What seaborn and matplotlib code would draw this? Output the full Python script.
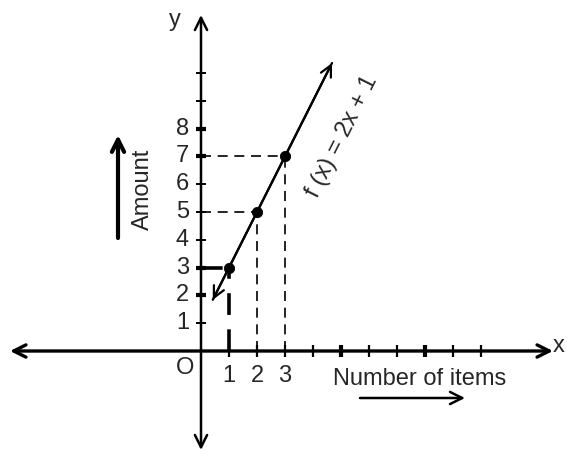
import matplotlib
matplotlib.use("Agg")
import matplotlib.pyplot as plt
import seaborn as sns
import pandas as pd

sns.set_style("white")
plt.rcParams["font.family"] = ["Liberation Sans", "DejaVu Sans"]

# Data
items = [1, 2, 3]
amounts = [3, 5, 7]
line_x = [0.42, 4.68]
line_y = [1.84, 10.36]
y_tick_labels = [1, 2, 3, 4, 5, 6, 7, 8]
y_ticks_unlabelled = [9, 10]
x_tick_labels = [1, 2, 3]
x_ticks_unlabelled = [4, 5, 6, 7, 8, 9, 10]
thick_y_ticks = [2, 3, 7, 8]
thick_x_ticks = [5, 8]

W, H = 567, 454
fig = plt.figure(figsize=(W / 100, H / 100), dpi=100)
ax = fig.add_axes([0, 0, 1, 1])

# pixel scale: origin at (201, 351), 28 px per x unit, 27.8 px per y unit
ox, oy, ux, uy = 201, 351, 28.0, 27.8
ax.set_xlim(-ox / ux, (W - ox) / ux)
ax.set_ylim(-(H - oy) / uy, oy / uy)
ax.axis("off")

def px(x, y):
    return (x - ox) / ux, (oy - y) / uy

arrow_kw = dict(arrowstyle="->", lw=2.4, color="black", mutation_scale=22,
                shrinkA=0, shrinkB=0)

# coordinate axes with arrowheads at both ends
ax.annotate("", xy=px(553, 351), xytext=(0, 0), arrowprops=arrow_kw)
ax.annotate("", xy=px(10, 351), xytext=(0, 0), arrowprops=arrow_kw)
ax.annotate("", xy=px(201, 15), xytext=(0, 0), arrowprops=dict(arrow_kw, lw=1.8))
ax.annotate("", xy=px(201, 450), xytext=(0, 0), arrowprops=dict(arrow_kw, lw=1.8))

# ticks
tx = 5 / ux
ty = 6 / uy
for v in y_tick_labels + y_ticks_unlabelled:
    ax.plot([-tx, tx], [v, v], color="black",
            lw=3.0 if v in thick_y_ticks else 1.4, solid_capstyle="butt")
for v in x_tick_labels + x_ticks_unlabelled:
    ax.plot([v, v], [-ty, ty], color="black",
            lw=3.0 if v in thick_x_ticks else 1.6, solid_capstyle="butt")

fs = 17
for v in y_tick_labels:
    ax.text(-12 / ux, v, str(v), ha="right", va="center", fontsize=fs)
for v in x_tick_labels:
    ax.text(v, -25 / uy, str(v), ha="center", va="center", fontsize=fs)
ax.text(*px(185, 368), "O", ha="center", va="center", fontsize=fs)
ax.text(*px(175, 20), "y", ha="center", va="center", fontsize=fs)
ax.text(*px(565, 346), "x", ha="right", va="center", fontsize=fs)

# dashed guides from each point to the axes
for x, y in zip(items, amounts):
    lw = 2.6 if x == 1 else 1.2
    ax.plot([0, x], [y, y], color="black", lw=lw, ls=(0, (6, 4)))
    ax.plot([x, x], [0, y], color="black", lw=lw, ls=(0, (6, 4)))

# the function line with arrows at both ends
df = pd.DataFrame({"x": line_x, "y": line_y})
sns.lineplot(data=df, x="x", y="y", ax=ax, color="black", lw=1.6)
mid = (line_x[0] + line_x[1]) / 2, (line_y[0] + line_y[1]) / 2
ax.annotate("", xy=(line_x[1], line_y[1]), xytext=mid,
            arrowprops=dict(arrow_kw, lw=1.6, mutation_scale=20))
ax.annotate("", xy=(line_x[0], line_y[0]), xytext=mid,
            arrowprops=dict(arrow_kw, lw=1.6, mutation_scale=20))

pts = pd.DataFrame({"items": items, "amount": amounts})
sns.scatterplot(data=pts, x="items", y="amount", ax=ax, color="black",
                s=55, edgecolor="black", zorder=5)
ax.set_xlabel("")
ax.set_ylabel("")

ax.text(*px(342, 137), "f (x) = 2x + 1", rotation=63.3, ha="center",
        va="center", fontsize=fs, rotation_mode="anchor")

# axis captions with direction arrows
ax.text(*px(143, 189), "Amount", rotation=90, ha="center", va="center", fontsize=fs)
ax.annotate("", xy=px(118, 135), xytext=px(118, 238),
            arrowprops=dict(arrow_kw, lw=3.0, mutation_scale=22))
ax.text(*px(420, 379), "Number of items", ha="center", va="center", fontsize=fs)
ax.annotate("", xy=px(465, 398), xytext=px(360, 398),
            arrowprops=dict(arrow_kw, lw=1.8, mutation_scale=22))

fig.savefig("out.png", dpi=100)
